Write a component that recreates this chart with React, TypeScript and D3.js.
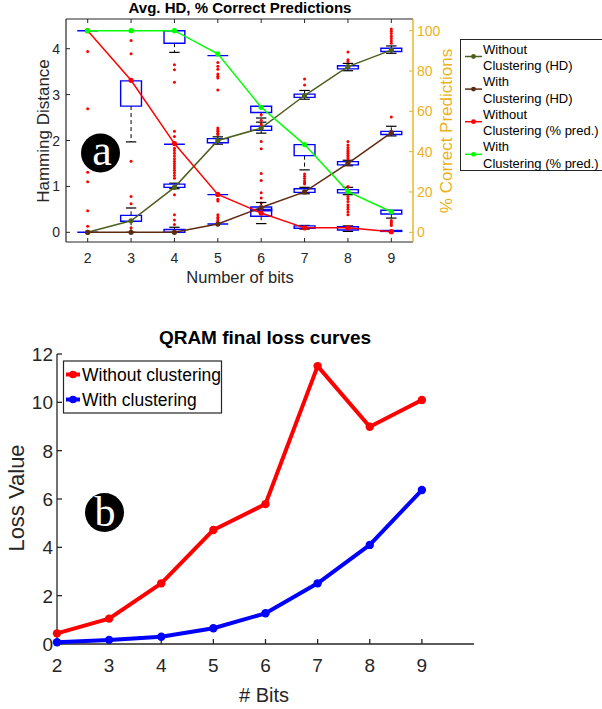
import { useRef, useEffect } from 'react';
import * as d3 from 'd3';

// ---- panel (a): Avg. HD, % correct predictions ----
const BITS = [2, 3, 4, 5, 6, 7, 8, 9];
const HD_WITHOUT = [0, 0.25, 0.98, 2.0, 2.27, 2.98, 3.61, 3.97];
const HD_WITH = [0, 0, 0, 0.18, 0.54, 0.88, 1.5, 2.17];
const PRED_WITHOUT = [100, 75.4, 44, 18.8, 9.6, 2.2, 2.2, 0.3];
const PRED_WITH = [100, 100, 100, 88.5, 62, 43.5, 20.2, 10.2];
const HD_TICKS = [0, 1, 2, 3, 4];
const PRED_TICKS = [0, 20, 40, 60, 80, 100];

// box plots, in Hamming-distance units
interface Box { bit: number; q1: number; q3: number; lo: number; hi: number; out: number[] }
const BOXES: Box[] = [
  { bit: 2, q1: 4.39, q3: 4.39, lo: 4.39, hi: 4.39, out: [3.94, 2.69, 1.31, 1.1, 0.47, 0.13] },
  { bit: 2, q1: 0, q3: 0, lo: 0, hi: 0, out: [] },
  { bit: 3, q1: 2.75, q3: 3.3, lo: 1.97, hi: 3.3, out: [4.18, 3.89, 1.55] },
  { bit: 3, q1: 0.24, q3: 0.37, lo: 0, hi: 0.53, out: [0.78, 0.62, 0.1] },
  { bit: 4, q1: 4.12, q3: 4.39, lo: 3.92, hi: 4.39, out: [3.65, 3.54, 3.27] },
  { bit: 4, q1: 1.92, q3: 1.92, lo: 1.92, hi: 1.92, out: [2.2, 2.09, 1.83, 1.78, 1.72, 1.66, 1.6, 1.55, 1.5, 1.45, 1.4, 1.35, 1.3, 1.24, 1.18] },
  { bit: 4, q1: 0.98, q3: 1.05, lo: 0.95, hi: 1.07, out: [0.82, 0.38, 0.27, 0.17] },
  { bit: 4, q1: 0, q3: 0.06, lo: 0, hi: 0.11, out: [] },
  { bit: 5, q1: 3.85, q3: 3.85, lo: 3.85, hi: 3.85, out: [3.7, 3.62, 3.55, 3.45, 3.4, 3.36, 3.1] },
  { bit: 5, q1: 1.95, q3: 2.04, lo: 1.92, hi: 2.08, out: [2.27, 2.23, 2.2, 2.16, 2.13] },
  { bit: 5, q1: 0.82, q3: 0.82, lo: 0.82, hi: 0.82, out: [0.72, 0.68] },
  { bit: 5, q1: 0.18, q3: 0.18, lo: 0.18, hi: 0.18, out: [0.38, 0.33, 0.29, 0.25, 0.22] },
  { bit: 6, q1: 2.61, q3: 2.745, lo: 2.49, hi: 2.745, out: [] },
  { bit: 6, q1: 2.22, q3: 2.31, lo: 2.16, hi: 2.4, out: [2.56, 2.44, 2.36, 2.33, 1.98, 1.82, 1.28, 1.13, 0.86, 0.75, 0.64] },
  { bit: 6, q1: 0.47, q3: 0.55, lo: 0.47, hi: 0.65, out: [] },
  { bit: 6, q1: 0.35, q3: 0.5, lo: 0.19, hi: 0.5, out: [] },
  { bit: 7, q1: 2.94, q3: 3.01, lo: 2.9, hi: 3.09, out: [3.34, 3.21] },
  { bit: 7, q1: 1.67, q3: 1.91, lo: 1.36, hi: 1.91, out: [1.27, 1.22, 1.17, 1.12, 1.08, 1.05] },
  { bit: 7, q1: 0.87, q3: 0.95, lo: 0.84, hi: 0.98, out: [] },
  { bit: 7, q1: 0.09, q3: 0.14, lo: 0.07, hi: 0.15, out: [] },
  { bit: 8, q1: 3.56, q3: 3.63, lo: 3.52, hi: 3.68, out: [3.93, 3.76, 3.72] },
  { bit: 8, q1: 1.47, q3: 1.54, lo: 1.45, hi: 1.57, out: [1.98, 1.9, 1.85, 1.8, 1.76, 1.72, 1.68, 1.64, 1.6] },
  { bit: 8, q1: 0.86, q3: 0.93, lo: 0.82, hi: 0.98, out: [1.0, 0.78, 0.73, 0.67, 0.6, 0.55, 0.5, 0.44, 0.38] },
  { bit: 8, q1: 0.05, q3: 0.12, lo: 0.02, hi: 0.14, out: [] },
  { bit: 9, q1: 3.94, q3: 4.01, lo: 3.9, hi: 4.06, out: [4.43, 4.38, 4.33, 4.27, 4.22, 4.17, 4.12] },
  { bit: 9, q1: 2.13, q3: 2.2, lo: 2.1, hi: 2.31, out: [2.51] },
  { bit: 9, q1: 0.4, q3: 0.48, lo: 0.31, hi: 0.48, out: [0.26, 0.22, 0.18, 0.15] },
  { bit: 9, q1: 0.02, q3: 0.04, lo: 0.02, hi: 0.04, out: [] },
];

const LEGEND_A = [
  { lines: ['Without', 'Clustering (HD)'], colour: '#4C5F1C' },
  { lines: ['With', 'Clustering (HD)'], colour: '#5E2A10' },
  { lines: ['Without', 'Clustering (% pred.)'], colour: '#FF0000' },
  { lines: ['With', 'Clustering (% pred.)'], colour: '#00FF00' },
];

// ---- panel (b): QRAM final loss curves ----
const LOSS_BITS = [2, 3, 4, 5, 6, 7, 8, 9];
const LOSS_WITHOUT = [0.44, 1.05, 2.51, 4.72, 5.79, 11.5, 8.99, 10.1];
const LOSS_WITH = [0.07, 0.17, 0.3, 0.65, 1.27, 2.51, 4.1, 6.37];
const LOSS_TICKS = [0, 2, 4, 6, 8, 10, 12];
const LEGEND_B = [
  { label: 'Without clustering', colour: '#FF0000' },
  { label: 'With clustering', colour: '#0000FF' },
];

const FONT = '"Liberation Sans", Arial, Helvetica, sans-serif';
const INK = '#262626';
const GOLD = '#EDB120';

export default function App() {
  const svgRef = useRef<SVGSVGElement>(null);

  useEffect(() => {
    if (!svgRef.current) return;
    const svg = d3.select(svgRef.current);
    svg.selectAll('*').remove();

    // ================= panel a =================
    const A = { left: 66, right: 413, top: 19, bottom: 242 };
    const x = d3.scaleLinear().domain([1.5, 9.5]).range([A.left, A.right]);
    const y = d3.scaleLinear().domain([-0.211, 4.647]).range([A.bottom, A.top]);
    const yR = d3.scaleLinear().domain([-4.81, 105.8]).range([A.bottom, A.top]);
    const ga = svg.append('g');

    ga.append('text')
      .attr('x', 240).attr('y', 13)
      .attr('text-anchor', 'middle')
      .attr('font-family', FONT).attr('font-size', 15).attr('font-weight', 'bold')
      .attr('fill', '#000')
      .text('Avg. HD, % Correct Predictions');

    // boxes
    const half = 0.24;
    const cap = 0.12;
    BOXES.forEach(b => {
      const x0 = x(b.bit - half), x1 = x(b.bit + half);
      if (b.hi > b.q3) {
        ga.append('line')
          .attr('x1', x(b.bit)).attr('x2', x(b.bit))
          .attr('y1', y(b.q3)).attr('y2', y(b.hi))
          .attr('stroke', '#000').attr('stroke-width', 1).attr('stroke-dasharray', '4,3');
        ga.append('line')
          .attr('x1', x(b.bit - cap)).attr('x2', x(b.bit + cap))
          .attr('y1', y(b.hi)).attr('y2', y(b.hi))
          .attr('stroke', '#000').attr('stroke-width', 1.2);
      }
      if (b.lo < b.q1) {
        ga.append('line')
          .attr('x1', x(b.bit)).attr('x2', x(b.bit))
          .attr('y1', y(b.q1)).attr('y2', y(b.lo))
          .attr('stroke', '#000').attr('stroke-width', 1).attr('stroke-dasharray', '4,3');
        ga.append('line')
          .attr('x1', x(b.bit - cap)).attr('x2', x(b.bit + cap))
          .attr('y1', y(b.lo)).attr('y2', y(b.lo))
          .attr('stroke', '#000').attr('stroke-width', 1.2);
      }
      ga.append('path')
        .attr('d', `M${x0},${y(b.q1)}H${x1}V${y(b.q3)}H${x0}Z`)
        .attr('fill', 'none')
        .attr('stroke', '#0000FF')
        .attr('stroke-width', 1.4);
      b.out.forEach(o => {
        ga.append('circle')
          .attr('cx', x(b.bit)).attr('cy', y(o)).attr('r', 1.5)
          .attr('fill', '#FF0000');
      });
    });

    // lines
    const drawSeries = (vals: number[], scale: d3.ScaleLinear<number, number>, colour: string) => {
      const pts = BITS.map((b, i) => [x(b), scale(vals[i])] as [number, number]);
      ga.append('path')
        .attr('d', d3.line()(pts))
        .attr('fill', 'none').attr('stroke', colour).attr('stroke-width', 1.5);
      pts.forEach(p => {
        ga.append('circle').attr('cx', p[0]).attr('cy', p[1]).attr('r', 2.6).attr('fill', colour);
      });
    };
    drawSeries(HD_WITHOUT, y, LEGEND_A[0].colour);
    drawSeries(HD_WITH, y, LEGEND_A[1].colour);
    drawSeries(PRED_WITHOUT, yR, LEGEND_A[2].colour);
    drawSeries(PRED_WITH, yR, LEGEND_A[3].colour);

    // axes frame
    ga.append('line').attr('x1', A.left).attr('x2', A.right).attr('y1', A.bottom).attr('y2', A.bottom)
      .attr('stroke', INK).attr('stroke-width', 1.2);
    ga.append('line').attr('x1', A.left).attr('x2', A.right).attr('y1', A.top).attr('y2', A.top)
      .attr('stroke', INK).attr('stroke-width', 1.2);
    ga.append('line').attr('x1', A.left).attr('x2', A.left).attr('y1', A.top).attr('y2', A.bottom)
      .attr('stroke', INK).attr('stroke-width', 1.2);
    ga.append('line').attr('x1', A.right).attr('x2', A.right).attr('y1', A.top).attr('y2', A.bottom)
      .attr('stroke', GOLD).attr('stroke-width', 1.4);

    BITS.forEach(b => {
      ga.append('line').attr('x1', x(b)).attr('x2', x(b)).attr('y1', A.bottom).attr('y2', A.bottom - 4)
        .attr('stroke', INK);
      ga.append('line').attr('x1', x(b)).attr('x2', x(b)).attr('y1', A.top).attr('y2', A.top + 4)
        .attr('stroke', INK);
      ga.append('text')
        .attr('x', x(b)).attr('y', 263)
        .attr('text-anchor', 'middle')
        .attr('font-family', FONT).attr('font-size', 14).attr('fill', INK)
        .text(b);
    });
    HD_TICKS.forEach(t => {
      ga.append('line').attr('x1', A.left).attr('x2', A.left + 4).attr('y1', y(t)).attr('y2', y(t))
        .attr('stroke', INK);
      ga.append('text')
        .attr('x', 60).attr('y', y(t)).attr('dy', '0.36em')
        .attr('text-anchor', 'end')
        .attr('font-family', FONT).attr('font-size', 14).attr('fill', INK)
        .text(t);
    });
    PRED_TICKS.forEach(t => {
      ga.append('line').attr('x1', A.right).attr('x2', A.right - 4).attr('y1', yR(t)).attr('y2', yR(t))
        .attr('stroke', GOLD);
      ga.append('text')
        .attr('x', 417).attr('y', yR(t)).attr('dy', '0.36em')
        .attr('font-family', FONT).attr('font-size', 14).attr('fill', GOLD)
        .text(t);
    });

    ga.append('text')
      .attr('transform', 'translate(49,131) rotate(-90)')
      .attr('text-anchor', 'middle')
      .attr('font-family', FONT).attr('font-size', 17).attr('fill', INK)
      .text('Hamming Distance');
    ga.append('text')
      .attr('transform', 'translate(452,131) rotate(-90)')
      .attr('text-anchor', 'middle')
      .attr('font-family', FONT).attr('font-size', 17).attr('fill', GOLD)
      .text('% Correct Predictions');
    ga.append('text')
      .attr('x', 240).attr('y', 283)
      .attr('text-anchor', 'middle')
      .attr('font-family', FONT).attr('font-size', 16.5).attr('fill', INK)
      .text('Number of bits');

    // legend a
    ga.append('rect')
      .attr('x', 460.5).attr('y', 39.5).attr('width', 150).attr('height', 131)
      .attr('fill', '#fff').attr('stroke', INK).attr('stroke-width', 1);
    LEGEND_A.forEach((l, i) => {
      const cy = 56.5 + i * 32.6;
      ga.append('line').attr('x1', 465).attr('x2', 482).attr('y1', cy).attr('y2', cy)
        .attr('stroke', l.colour).attr('stroke-width', 1.5);
      ga.append('circle').attr('cx', 473.5).attr('cy', cy).attr('r', 2.4).attr('fill', l.colour);
      l.lines.forEach((s, j) => {
        ga.append('text')
          .attr('x', 483).attr('y', cy - 3 + j * 16.5)
          .attr('font-family', FONT).attr('font-size', 13).attr('fill', '#000')
          .text(s);
      });
    });

    // badge a
    ga.append('circle').attr('cx', 100.5).attr('cy', 153).attr('r', 19.5).attr('fill', '#000');
    ga.append('text')
      .attr('x', 102).attr('y', 165)
      .attr('text-anchor', 'middle')
      .attr('font-family', '"Liberation Serif", "Times New Roman", serif')
      .attr('font-size', 44).attr('fill', '#fff')
      .text('a');

    // ================= panel b =================
    const B = { left: 57, right: 474, top: 354, bottom: 644 };
    const xb = d3.scaleLinear().domain([2, 10]).range([B.left, B.right]);
    const yb = d3.scaleLinear().domain([0, 12]).range([B.bottom, B.top]);
    const gb = svg.append('g');

    gb.append('text')
      .attr('x', 265).attr('y', 344)
      .attr('text-anchor', 'middle')
      .attr('font-family', FONT).attr('font-size', 19).attr('font-weight', 'bold')
      .attr('fill', '#000')
      .text('QRAM final loss curves');

    gb.append('line').attr('x1', B.left).attr('x2', B.right).attr('y1', B.bottom).attr('y2', B.bottom)
      .attr('stroke', INK).attr('stroke-width', 1.3);
    gb.append('line').attr('x1', B.left).attr('x2', B.left).attr('y1', B.top).attr('y2', B.bottom)
      .attr('stroke', INK).attr('stroke-width', 1.3);
    LOSS_BITS.forEach(b => {
      gb.append('line').attr('x1', xb(b)).attr('x2', xb(b)).attr('y1', B.bottom).attr('y2', B.bottom - 5)
        .attr('stroke', INK).attr('stroke-width', 1.3);
      gb.append('text')
        .attr('x', xb(b)).attr('y', 672)
        .attr('text-anchor', 'middle')
        .attr('font-family', FONT).attr('font-size', 19).attr('fill', INK)
        .text(b);
    });
    LOSS_TICKS.forEach(t => {
      gb.append('line').attr('x1', B.left).attr('x2', B.left + 5).attr('y1', yb(t)).attr('y2', yb(t))
        .attr('stroke', INK).attr('stroke-width', 1.3);
      gb.append('text')
        .attr('x', 53).attr('y', yb(t)).attr('dy', '0.36em')
        .attr('text-anchor', 'end')
        .attr('font-family', FONT).attr('font-size', 19).attr('fill', INK)
        .text(t);
    });
    gb.append('text')
      .attr('transform', 'translate(24,498) rotate(-90)')
      .attr('text-anchor', 'middle')
      .attr('font-family', FONT).attr('font-size', 22).attr('fill', INK)
      .text('Loss Value');
    gb.append('text')
      .attr('x', 264).attr('y', 702)
      .attr('text-anchor', 'middle')
      .attr('font-family', FONT).attr('font-size', 20).attr('fill', INK)
      .text('# Bits');

    const lossLine = d3.line<number>()
      .x((_, i) => xb(LOSS_BITS[i]))
      .y(d => yb(d));
    [LOSS_WITHOUT, LOSS_WITH].forEach((vals, k) => {
      const colour = LEGEND_B[k].colour;
      gb.append('path')
        .datum(vals)
        .attr('d', lossLine)
        .attr('fill', 'none').attr('stroke', colour).attr('stroke-width', 4)
        .attr('stroke-linejoin', 'round');
      vals.forEach((v, i) => {
        gb.append('circle').attr('cx', xb(LOSS_BITS[i])).attr('cy', yb(v)).attr('r', 4.2).attr('fill', colour);
      });
    });

    // legend b
    gb.append('rect')
      .attr('x', 63.5).attr('y', 361).attr('width', 158).attr('height', 52)
      .attr('fill', '#fff').attr('stroke', INK).attr('stroke-width', 1.2);
    LEGEND_B.forEach((l, i) => {
      const cy = 374.5 + i * 25;
      gb.append('line').attr('x1', 66).attr('x2', 80).attr('y1', cy).attr('y2', cy)
        .attr('stroke', l.colour).attr('stroke-width', 4);
      gb.append('circle').attr('cx', 73).attr('cy', cy).attr('r', 3.8).attr('fill', l.colour);
      gb.append('text')
        .attr('x', 82).attr('y', cy + 6.5)
        .attr('font-family', FONT).attr('font-size', 17.5).attr('fill', '#000')
        .text(l.label);
    });

    // badge b
    gb.append('circle').attr('cx', 104.5).attr('cy', 512.5).attr('r', 19.5).attr('fill', '#000');
    gb.append('text')
      .attr('x', 105).attr('y', 526)
      .attr('text-anchor', 'middle')
      .attr('font-family', '"Liberation Serif", "Times New Roman", serif')
      .attr('font-size', 42).attr('fill', '#fff')
      .text('b');
  }, []);

  return (
    <svg
      ref={svgRef}
      width={602}
      height={709}
      style={{ position: 'absolute', left: 0, top: 0, background: '#fff' }}
    />
  );
}
